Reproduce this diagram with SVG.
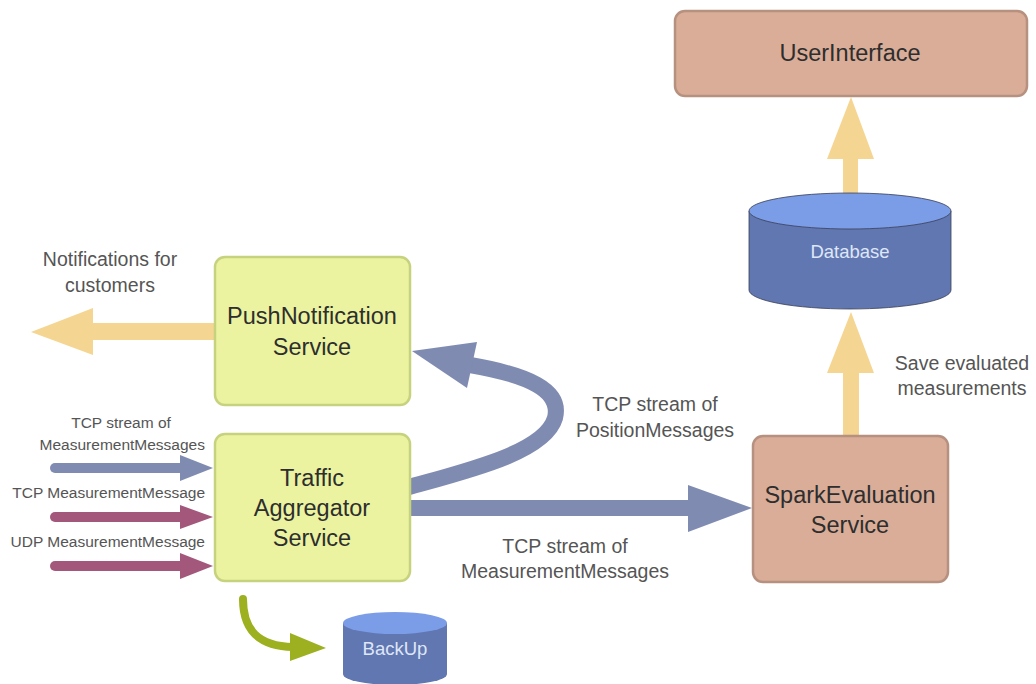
<svg xmlns="http://www.w3.org/2000/svg" width="1036" height="684" viewBox="0 0 1036 684">
  <style>
    text { font-family: "Liberation Sans", Arial, sans-serif; }
    .node-y { fill: #ebf3a0; stroke: #c7d27f; stroke-width: 2.5; }
    .node-r { fill: #d9ad98; stroke: #b6917f; stroke-width: 2.5; }
    .ntext { font-size: 23.5px; fill: #2e2e2e; text-anchor: middle; }
    .lbl { font-size: 19.5px; fill: #555555; text-anchor: middle; }
    .slbl { font-size: 15.5px; fill: #555555; text-anchor: end; }
    .slbl-c { font-size: 15.5px; fill: #555555; text-anchor: middle; }
    .cyl-body { fill: #6077b2; }
    .cyl-top { fill: #7b9ce6; }
    .ctext { font-size: 18.5px; fill: #dfe6f7; text-anchor: middle; }
    .blue { fill: #7f8bb1; }
    .mag { fill: #a3587b; }
    .sand { fill: #f5d592; }
  </style>

  <!-- connectors -->
  <g id="connectors">
    <!-- PushNotification -> customers -->
    <polygon class="sand" points="215,323 93,323 93,308 31,332 93,355 93,340 215,340"/>
    <!-- incoming streams -->
    <line x1="55" y1="468" x2="182" y2="468" stroke="#7f8bb1" stroke-width="10" stroke-linecap="round"/>
    <polygon class="blue" points="180,455 213,468 180,481"/>
    <line x1="55" y1="517" x2="182" y2="517" stroke="#a3587b" stroke-width="10" stroke-linecap="round"/>
    <polygon class="mag" points="180,505 213,517 180,529"/>
    <line x1="55" y1="566" x2="182" y2="566" stroke="#a3587b" stroke-width="10" stroke-linecap="round"/>
    <polygon class="mag" points="180,553 213,566 180,579"/>
    <!-- Traffic -> SparkEvaluation -->
    <polygon class="blue" points="410,500 688,500 688,485 752,508 688,532 688,516 410,516"/>
    <!-- Traffic -> PushNotification (curved) -->
    <path d="M409,487 C470,470 545,452 555,418 C562,390 528,375 470,365" fill="none" stroke="#7f8bb1" stroke-width="16"/>
    <polygon class="blue" points="412,351 477,342 467,388"/>
    <!-- SparkEvaluation -> Database -->
    <polygon class="sand" points="843,437 843,373 827,373 851,312 874,373 859,373 859,437"/>
    <!-- Database -> UserInterface -->
    <polygon class="sand" points="843,194 843,159 827,159 851,97 874,159 858,159 858,194"/>
    <!-- Traffic -> BackUp -->
    <path d="M243,599 C243,630 258,646 293,647" fill="none" stroke="#9db020" stroke-width="8" stroke-linecap="round"/>
    <polygon fill="#9db020" points="290,633 326,648 290,661"/>
  </g>

  <!-- labels on connectors -->
  <g id="labels">
    <text class="lbl" x="110" y="266">Notifications for</text>
    <text class="lbl" x="110" y="292">customers</text>
    <text class="slbl-c" x="121" y="428">TCP stream of</text>
    <text class="slbl" x="205" y="450">MeasurementMessages</text>
    <text class="slbl" x="205" y="498">TCP MeasurementMessage</text>
    <text class="slbl" x="205" y="547">UDP MeasurementMessage</text>
    <text class="lbl" x="655" y="411">TCP stream of</text>
    <text class="lbl" x="655" y="437">PositionMessages</text>
    <text class="lbl" x="565" y="553">TCP stream of</text>
    <text class="lbl" x="565" y="578">MeasurementMessages</text>
    <text class="lbl" x="962" y="370">Save evaluated</text>
    <text class="lbl" x="962" y="395">measurements</text>
  </g>

  <g id="push-notification">
    <rect class="node-y" x="215" y="257" width="195" height="148" rx="10"/>
    <text class="ntext" x="312" y="324">PushNotification</text>
    <text class="ntext" x="312" y="355">Service</text>
  </g>

  <g id="traffic-aggregator">
    <rect class="node-y" x="215" y="434" width="195" height="147" rx="10"/>
    <text class="ntext" x="312" y="486">Traffic</text>
    <text class="ntext" x="312" y="516">Aggregator</text>
    <text class="ntext" x="312" y="546">Service</text>
  </g>

  <g id="spark-evaluation">
    <rect class="node-r" x="753" y="436" width="195" height="146" rx="10"/>
    <text class="ntext" x="850" y="503">SparkEvaluation</text>
    <text class="ntext" x="850" y="533">Service</text>
  </g>

  <g id="user-interface">
    <rect class="node-r" x="675" y="11" width="352" height="85" rx="10"/>
    <text class="ntext" x="850" y="61">UserInterface</text>
  </g>

  <g id="database">
    <path class="cyl-body" d="M749,211 L749,290 A101,19 0 0 0 951,290 L951,211 Z" stroke="#3a3f55" stroke-width="0.8"/>
    <ellipse class="cyl-top" cx="850" cy="211" rx="101" ry="18" stroke="#3a3f55" stroke-width="0.8"/>
    <text class="ctext" x="850" y="258">Database</text>
  </g>

  <g id="backup">
    <path class="cyl-body" d="M343,623 L343,674 A52,11 0 0 0 447,674 L447,623 Z"/>
    <ellipse class="cyl-top" cx="395" cy="623" rx="52" ry="11"/>
    <text class="ctext" x="395" y="655">BackUp</text>
  </g>
</svg>
